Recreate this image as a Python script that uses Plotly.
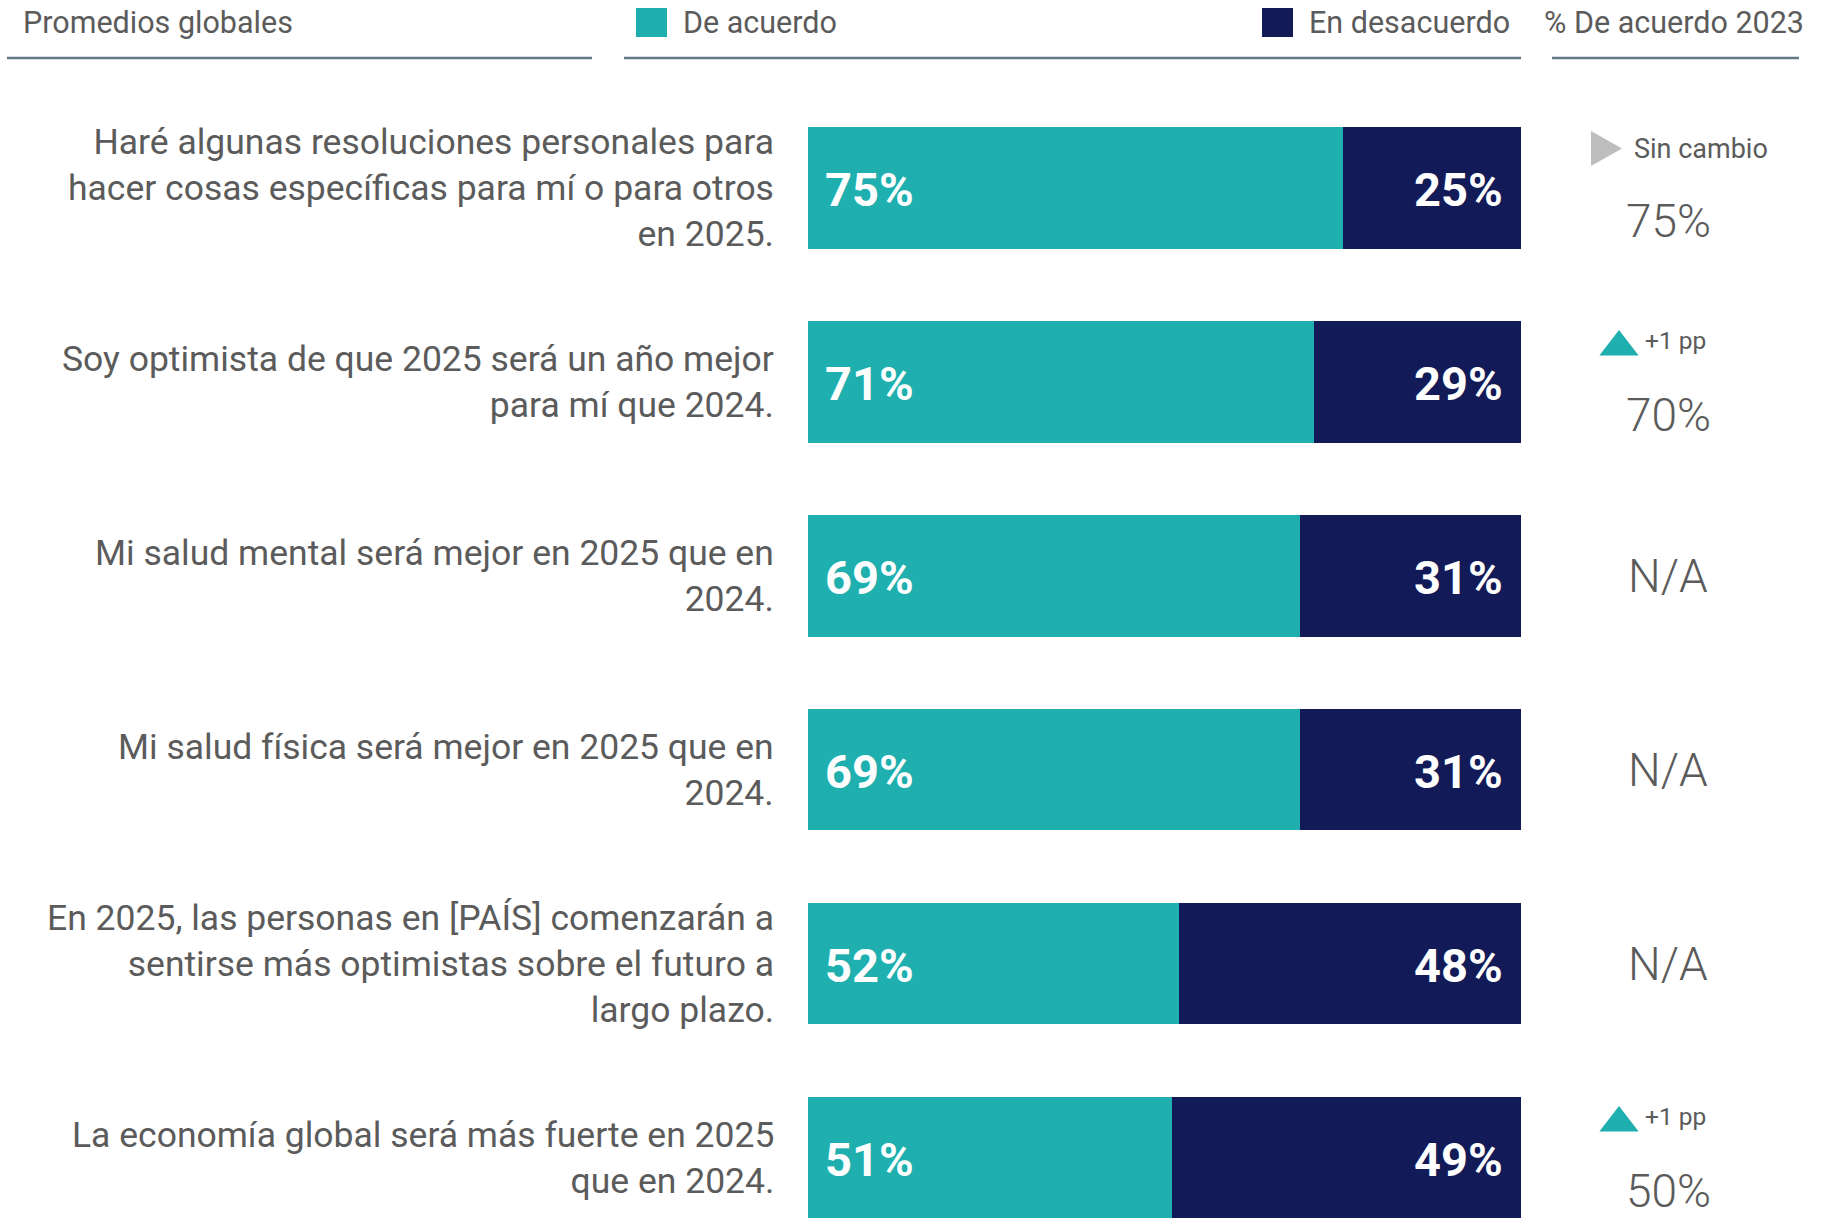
import plotly.graph_objects as go

W, H = 1821, 1221

categories = [
    "Haré algunas resoluciones personales para<br>hacer cosas específicas para mí o para otros<br>en 2025.",
    "Soy optimista de que 2025 será un año mejor<br>para mí que 2024.",
    "Mi salud mental será mejor en 2025 que en<br>2024.",
    "Mi salud física será mejor en 2025 que en<br>2024.",
    "En 2025, las personas en [PAÍS] comenzarán a<br>sentirse más optimistas sobre el futuro a<br>largo plazo.",
    "La economía global será más fuerte en 2025<br>que en 2024.",
]
agree = [75, 71, 69, 69, 52, 51]
disagree = [25, 29, 31, 31, 48, 49]
agree_2023 = ["75%", "70%", "N/A", "N/A", "N/A", "50%"]
change_text = ["Sin cambio", "+1 pp", None, None, None, "+1 pp"]
change_dir = ["flat", "up", None, None, None, "up"]

TEAL = "#1eafae"
NAVY = "#121a57"
GREY = "#5b5b5b"
LINE = "#5f7a85"
FONT = "Roboto"

ypos = list(range(len(categories)))

def px(x):
    return x / W

def py(y):
    return 1 - y / H

fig = go.Figure()
fig.add_trace(go.Bar(y=ypos, x=agree, orientation="h", marker_color=TEAL,
                     marker_line_width=0, width=0.624, name="De acuerdo",
                     hoverinfo="skip"))
fig.add_trace(go.Bar(y=ypos, x=disagree, orientation="h", marker_color=NAVY,
                     marker_line_width=0, width=0.624, name="En desacuerdo",
                     hoverinfo="skip"))

# "up" change markers on a full-width pixel axis
ys_up = [i - 0.18 for i, d in enumerate(change_dir) if d == "up"]
fig.add_trace(go.Scatter(x=[1619] * len(ys_up), y=ys_up, xaxis="x2", yaxis="y", mode="markers",
                         marker=dict(symbol="triangle-up", color=TEAL, size=34, line_width=0),
                         cliponaxis=False, hoverinfo="skip", showlegend=False))

shapes = []
# "flat" change markers (right-pointing triangle)
for i, d in enumerate(change_dir):
    if d == "flat":
        shapes.append(dict(type="path", xref="paper", yref="y", xsizemode="pixel",
                           ysizemode="pixel", xanchor=px(1591), yanchor=i - 0.204,
                           path="M0,-17.5 L31,0 L0,17.5 Z", fillcolor="#bdbdbd", line_width=0))

ann = []
for i, cat in enumerate(categories):
    ann.append(dict(x=px(776), xref="paper", y=i, yref="y", text=cat, showarrow=False,
                    xanchor="right", yanchor="middle", align="right",
                    font=dict(family=FONT, size=35.5, color=GREY)))
    ann.append(dict(x=0, xref="x", y=i, yref="y", text=f"{agree[i]}%", showarrow=False,
                    xanchor="left", yanchor="middle", xshift=15, yshift=-2,
                    font=dict(family=FONT, size=47, color="white", weight="bold")))
    ann.append(dict(x=agree[i] + disagree[i], xref="x", y=i, yref="y", text=f"{disagree[i]}%",
                    showarrow=False, xanchor="right", yanchor="middle", xshift=-16, yshift=-2,
                    font=dict(family=FONT, size=47, color="white", weight="bold")))
    if change_text[i] is None:
        ann.append(dict(x=px(1668), xref="paper", y=i, yref="y", text=agree_2023[i],
                        showarrow=False, xanchor="center", yanchor="middle",
                        font=dict(family=FONT, size=46, color=GREY, weight=300)))
    else:
        ann.append(dict(x=px(1668), xref="paper", y=i, yref="y", text=agree_2023[i],
                        showarrow=False, xanchor="center", yanchor="middle", yshift=-33,
                        font=dict(family=FONT, size=46, color=GREY, weight=300)))
        flat = change_dir[i] == "flat"
        ann.append(dict(x=px(1632 if flat else 1643), xref="paper", y=i, yref="y",
                        text=change_text[i], showarrow=False, xanchor="left",
                        yanchor="middle", yshift=39 if flat else 41,
                        font=dict(family=FONT, size=27 if flat else 24.5, color=GREY)))

# header
hdr = dict(family=FONT, size=30.5, color=GREY)
ann.append(dict(x=px(21), y=py(23), xref="paper", yref="paper", text="Promedios globales",
                showarrow=False, xanchor="left", yanchor="middle", font=hdr))
ann.append(dict(x=px(681), y=py(23), xref="paper", yref="paper", text="De acuerdo",
                showarrow=False, xanchor="left", yanchor="middle", font=hdr))
ann.append(dict(x=px(1307), y=py(23), xref="paper", yref="paper", text="En desacuerdo",
                showarrow=False, xanchor="left", yanchor="middle", font=hdr))
ann.append(dict(x=px(1806), y=py(23), xref="paper", yref="paper", text="% De acuerdo 2023",
                showarrow=False, xanchor="right", yanchor="middle", font=hdr))

for x0, x1 in [(7, 592), (624, 1521), (1552, 1799)]:
    shapes.append(dict(type="line", xref="paper", yref="paper", x0=px(x0), x1=px(x1),
                       y0=py(58), y1=py(58), line=dict(color=LINE, width=2.5)))
for x0, col in [(636, TEAL), (1262, NAVY)]:
    shapes.append(dict(type="rect", xref="paper", yref="paper", x0=px(x0), x1=px(x0 + 31),
                       y0=py(37), y1=py(8), fillcolor=col, line_width=0))

fig.update_layout(
    width=W, height=H, barmode="stack", showlegend=False,
    plot_bgcolor="rgba(0,0,0,0)", paper_bgcolor="white",
    margin=dict(l=0, r=0, t=0, b=0),
    xaxis=dict(domain=[px(808), px(1521)], range=[0, 100], visible=False, fixedrange=True),
    xaxis2=dict(domain=[0, 1], range=[0, W], anchor="y", visible=False, fixedrange=True),
    yaxis=dict(range=[5.325, -0.969], visible=False, fixedrange=True),
    annotations=ann, shapes=shapes,
)

fig.write_html("out.html", config={"displayModeBar": False},
               post_script="document.body.style.margin='0';document.body.style.overflow='hidden';")
